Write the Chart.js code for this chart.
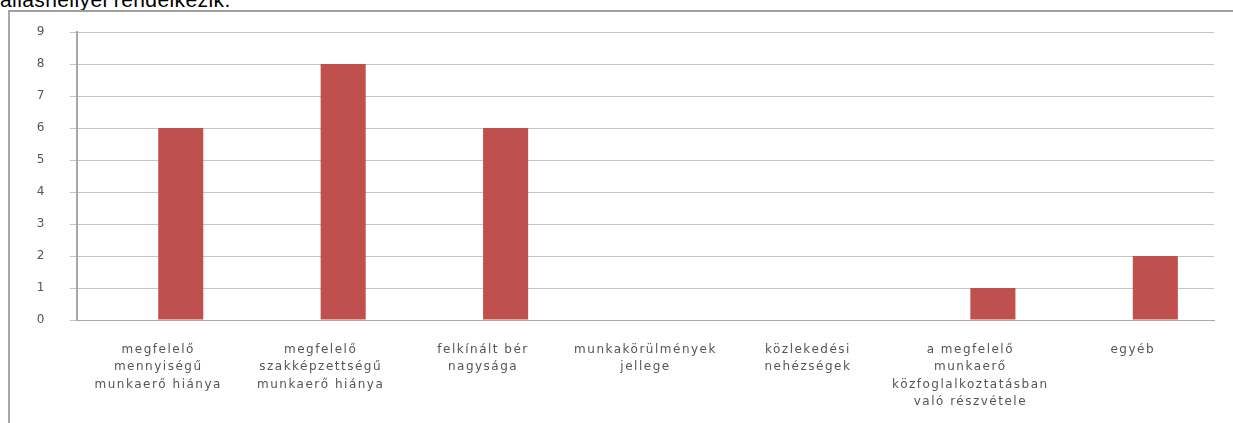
<html>
<head>
    <title>Oszlopdiagram</title>
    <script src="https://cdn.jsdelivr.net/npm/chart.js@4.4.1/dist/chart.umd.min.js"></script>
    <style>
        body { margin: 0; background: #fff; overflow: hidden; }
        #caption { position: absolute; left: 0; top: -11px; font: 21px "Liberation Sans", Arial, sans-serif; line-height: 21px; color: #000; letter-spacing: 0.4px; white-space: nowrap; }
        #frame { position: absolute; left: 8px; top: 10px; width: 1225px; height: 413px; border-top: 2px solid #a0a0a0; border-left: 2px solid #a8a8a8; }
        #wrap { position: absolute; left: 0; top: 0; width: 1233px; height: 423px; }
    </style>
</head>
<body>
<div id="caption">álláshellyel rendelkezik.</div>
<div id="frame"></div>
<div id="wrap"><canvas id="myChart" width="1233" height="423"></canvas></div>

<script type="text/javascript">
// kategóriák (többsoros címkék)
var categories = [
    ["megfelelő", "mennyiségű", "munkaerő hiánya"],
    ["megfelelő", "szakképzettségű", "munkaerő hiánya"],
    ["felkínált bér", "nagysága"],
    ["munkakörülmények", "jellege"],
    ["közlekedési", "nehézségek"],
    ["a megfelelő", "munkaerő", "közfoglalkoztatásban", "való részvétele"],
    ["egyéb"]
]
// az első sorozat üres, ezért tolódnak jobbra az oszlopok
var emptySeries = [null, null, null, null, null, null, null]
var values = [6, 8, 6, 0, 0, 1, 2]
var yTicks = [0, 1, 2, 3, 4, 5, 6, 7, 8, 9]

var spacing = {
    id: 'spacing',
    beforeDraw: function(chart) { chart.ctx.letterSpacing = '1.5px' }
}

var ctx = document.getElementById("myChart")
var chart = new Chart(ctx, {
    type: 'bar',
    data: {
        labels: categories,
        datasets: [
            { label: 'a', data: emptySeries, backgroundColor: '#C0504D' },
            { label: 'b', data: values, backgroundColor: '#C0504D', borderWidth: 0 }
        ]
    },
    options: {
        responsive: false,
        animation: false,
        layout: { padding: { left: 10, right: 19, top: 32, bottom: 0 } },
        plugins: { legend: { display: false }, tooltip: { enabled: false } },
        datasets: { bar: { categoryPercentage: 0.555, barPercentage: 1 } },
        scales: {
            x: {
                grid: { display: false },
                border: { display: true, color: '#a8a8a8', width: 1 },
                ticks: {
                    autoSkip: false, maxRotation: 0, padding: 13,
                    color: '#555',
                    font: { family: 'DejaVu Sans', size: 12, lineHeight: 1.45 }
                },
                afterFit: function(s) { s.height = 103 }
            },
            y: {
                min: 0, max: 9,
                afterBuildTicks: function(s) { s.ticks = yTicks.map(function(v) { return { value: v } }) },
                grid: { color: '#c4c4c4', lineWidth: 1, tickLength: 7 },
                border: { display: true, color: '#a8a8a8', width: 2 },
                ticks: {
                    padding: 24, color: '#555',
                    font: { family: 'DejaVu Sans', size: 12 }
                },
                afterFit: function(s) { s.width = 67 }
            }
        }
    },
    plugins: [spacing]
})
</script>
</body>
</html>
